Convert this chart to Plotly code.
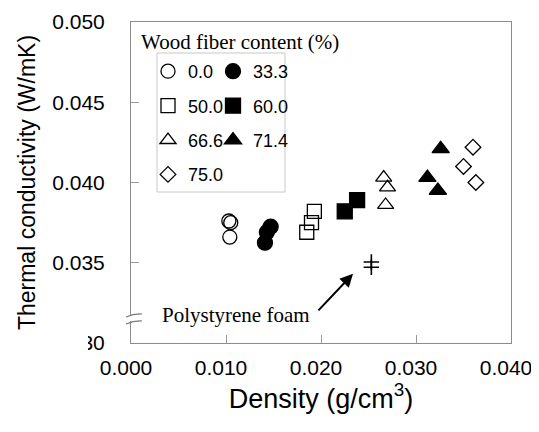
import plotly.graph_objects as go

# ---- data (density g/cm3, thermal conductivity W/mK) ----
x_00 = [0.0103, 0.0105, 0.0104]
y_00 = [0.0376, 0.0375, 0.0366]
x_333 = [0.0147, 0.0143, 0.0141]
y_333 = [0.03725, 0.0369, 0.03625]
x_500 = [0.0193, 0.0190, 0.0185]
y_500 = [0.0382, 0.0375, 0.0369]
x_600 = [0.0238, 0.0225]
y_600 = [0.0389, 0.0382]
x_666 = [0.0266, 0.0270, 0.0268]
y_666 = [0.0403, 0.0397, 0.0386]
x_714 = [0.0326, 0.0312, 0.0323]
y_714 = [0.0421, 0.0403, 0.0395]
x_750 = [0.0360, 0.0350, 0.0363]
y_750 = [0.0422, 0.0410, 0.0400]
x_ps = [0.0253, 0.0253]
y_ps = [0.03505, 0.03472]

x_ticks = [0.000, 0.010, 0.020, 0.030, 0.040]
x_ticktext = ["0.000", "0.010", "0.020", "0.030", "0.040"]
y_ticks = [0.030, 0.035, 0.040, 0.045, 0.050]
y_ticktext = ["0.030", "0.035", "0.040", "0.045", "0.050"]

series = [
    ("0.0", x_00, y_00, "circle-open", 14, "legend"),
    ("33.3", x_333, y_333, "circle", 15, "legend2"),
    ("50.0", x_500, y_500, "square-open", 14, "legend"),
    ("60.0", x_600, y_600, "square", 15, "legend2"),
    ("66.6", x_666, y_666, "triangle-up-open", 14, "legend"),
    ("71.4", x_714, y_714, "triangle-up", 15, "legend2"),
    ("75.0", x_750, y_750, "diamond-open", 12, "legend"),
]

fig = go.Figure()
for i, (name, xs, ys, sym, sz, leg) in enumerate(series):
    fig.add_trace(go.Scatter(
        x=xs, y=ys, mode="markers", name=name, legend=leg,
        legendgroup="g%d" % i,
        marker=dict(symbol=sym, size=sz, color="black",
                    line=dict(color="black", width=1.3)),
    ))

fig.add_trace(go.Scatter(
    x=x_ps, y=y_ps, mode="markers", showlegend=False,
    marker=dict(symbol="cross-thin", size=11, color="black",
                line=dict(color="black", width=1.6)),
))

# page has an 8px body margin; lay out in window pixels and compensate
OFF = 8
W, H = 539 - OFF, 432 - OFF
PL, PR, PT, PB = 131, 511, 22, 343          # plot frame in window pixels
L, T = PL - OFF, PT - OFF
R, B = W - (PR - OFF), H - (PB - OFF)
pw, ph = PR - PL, PB - PT


def px(xp):
    return (xp - PL) / pw


def py(yp):
    return (PB - yp) / ph


axis_common = dict(showgrid=False, zeroline=False, showline=True,
                   linecolor="#8c8c8c", linewidth=1, mirror=True,
                   ticks="inside", ticklen=8, tickcolor="#9a9a9a",
                   tickfont=dict(family="Liberation Sans, Arial", size=21, color="black"))

fig.update_layout(
    width=W, height=H,
    margin=dict(l=L, r=R, t=T, b=B, autoexpand=False),
    paper_bgcolor="white", plot_bgcolor="white",
    xaxis=dict(range=[0, 0.040], tickvals=x_ticks, ticktext=x_ticktext,
               ticklabelstandoff=6, ticklabelshift=-5,
               title=dict(text="Density (g/cm<sup>3</sup>)", standoff=0,
                          font=dict(family="Liberation Sans, Arial", size=27, color="black")),
               **axis_common),
    yaxis=dict(range=[0.030, 0.050], tickvals=y_ticks, ticktext=y_ticktext,
               ticklabelstandoff=21,
               title=dict(text="Thermal conductivity (W/mK)", standoff=10,
                          font=dict(family="Liberation Sans, Arial", size=23, color="black")),
               **axis_common),
    showlegend=True,
    legend=dict(x=px(148), y=py(53), xanchor="left", yanchor="top",
                bgcolor="rgba(0,0,0,0)", borderwidth=0,
                font=dict(family="Liberation Sans, Arial", size=18, color="black"),
                tracegroupgap=8, traceorder="grouped"),
    legend2=dict(x=px(213), y=py(53), xanchor="left", yanchor="top",
                 bgcolor="rgba(0,0,0,0)", borderwidth=0,
                 font=dict(family="Liberation Sans, Arial", size=18, color="black"),
                 tracegroupgap=8, traceorder="grouped"),
)

# legend frame and title
fig.add_shape(type="rect", xref="paper", yref="paper",
              x0=px(157), x1=px(285), y0=py(192), y1=py(53),
              line=dict(color="#c8c8c8", width=1), fillcolor="rgba(0,0,0,0)")
fig.add_annotation(xref="paper", yref="paper", x=px(139), y=py(42),
                   xanchor="left", yanchor="middle", showarrow=False,
                   text="Wood fiber content (%)",
                   font=dict(family="Liberation Serif, Times New Roman", size=21, color="black"))

# polystyrene foam label and arrow
fig.add_annotation(x=0.02337, y=0.03431, ax=0.01958, ay=0.03194,
                   xref="x", yref="y", axref="x", ayref="y",
                   showarrow=True, arrowhead=2, arrowsize=1.3, arrowwidth=2,
                   arrowcolor="black", text="")
fig.add_annotation(x=0.01105, y=0.03175, xref="x", yref="y", showarrow=False,
                   text="Polystyrene foam",
                   font=dict(family="Liberation Serif, Times New Roman", size=21, color="black"))

# partially hidden 0.030 label
fig.add_shape(type="rect", xref="paper", yref="paper", layer="above",
              x0=px(38), x1=px(88), y0=py(358), y1=py(328),
              line=dict(width=0), fillcolor="white")

# axis break mark
fig.add_shape(type="rect", xref="paper", yref="paper", layer="above",
              x0=px(128), x1=px(134), y0=py(321), y1=py(316),
              line=dict(width=0), fillcolor="white")
for yb in (315.5, 322.5):
    fig.add_shape(type="path", xref="paper", yref="paper", layer="above",
                  path="M %f,%f Q %f,%f %f,%f" % (px(126), py(yb + 1.5), px(134), py(yb - 2),
                                                  px(142), py(yb - 1.5)),
                  line=dict(color="#777777", width=1.2))

fig.write_html("out.html")
